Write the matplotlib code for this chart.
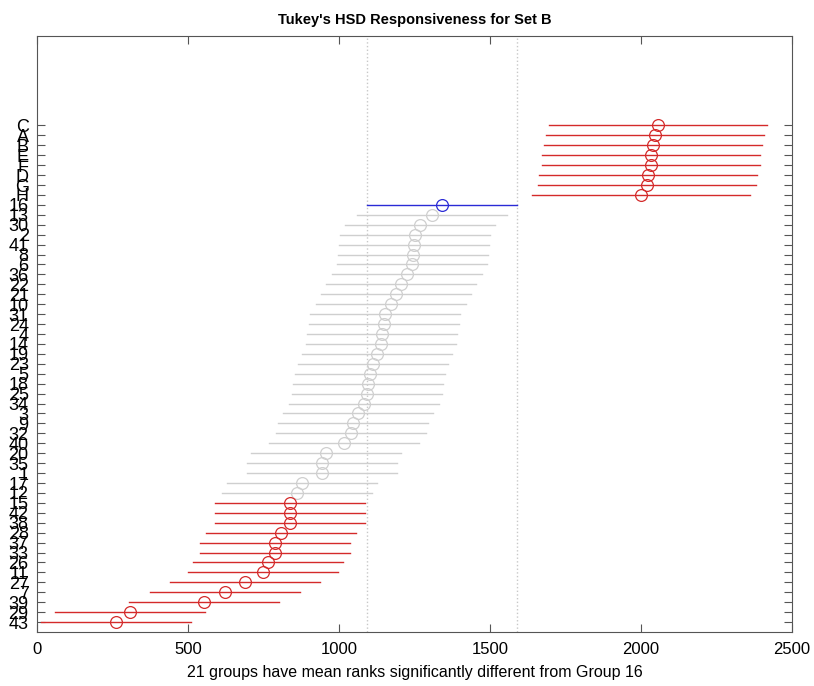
import numpy as np
import matplotlib
matplotlib.use("Agg")
import matplotlib.pyplot as plt

plt.rcParams['font.family'] = ['Liberation Sans', 'DejaVu Sans']

# Groups listed top to bottom, as in the chart
labels = ["C", "A", "B", "E", "F", "D", "G", "H",
          "16", "13", "30", "2", "41", "8", "6", "36", "22", "21",
          "10", "31", "24", "4", "14", "19", "23", "5", "18", "25",
          "34", "3", "9", "32", "40", "20", "35", "1", "17", "12",
          "15", "42", "38", "28", "37", "33", "26", "11", "27", "7",
          "39", "29", "43"]

# Mean ranks (estimated)
means = [2056, 2046, 2040, 2033, 2033, 2023, 2020, 2000,
         1341, 1308, 1268, 1252, 1248, 1245, 1242, 1225, 1205, 1189,
         1172, 1152, 1149, 1142, 1139, 1126, 1113, 1103, 1096, 1093,
         1083, 1063, 1046, 1040, 1017, 957, 944, 944, 877, 861,
         838, 838, 838, 808, 788, 788, 765, 748, 689, 623,
         553, 308, 262]

# Interval half widths: letter groups are wider than numbered groups
half_widths = [360] * 8 + [248] * 43

ref_group = "16"

n = len(labels)
ypos = np.arange(n, 0, -1)
means = np.array(means, dtype=float)
half_widths = np.array(half_widths, dtype=float)
lo = means - half_widths
hi = means + half_widths

ref = labels.index(ref_group)
ref_lo, ref_hi = lo[ref], hi[ref]

RED = "#d42a2a"
BLUE = "#2a2ad6"
GRAY = "#cfcfcf"

fig = plt.figure(figsize=(8.14, 6.86), dpi=100)
ax = fig.add_axes([0.0455, 0.0787, 0.9275, 0.8688])

# reference interval guides
ax.axvline(ref_lo, color="#c8c8c8", linestyle=":", linewidth=1.0, zorder=1)
ax.axvline(ref_hi, color="#c8c8c8", linestyle=":", linewidth=1.0, zorder=1)

n_sig = 0
for i in range(n):
    if i == ref:
        c = BLUE
    elif hi[i] < ref_lo or lo[i] > ref_hi:
        c = RED
        n_sig += 1
    else:
        c = GRAY
    ax.plot([lo[i], hi[i]], [ypos[i], ypos[i]], color=c, linewidth=1.0, zorder=2)
    ax.plot(means[i], ypos[i], marker="o", markersize=8.5, markerfacecolor="none",
            markeredgecolor=c, markeredgewidth=0.9, zorder=3)

ax.set_xlim(0, 2500)
ax.set_ylim(0, 60)
ax.set_xticks([0, 500, 1000, 1500, 2000, 2500])
ax.set_yticks(ypos)
ax.set_yticklabels(labels)

ax.tick_params(axis="both", direction="in", length=6, width=0.8, color="#555555",
               labelsize=12, top=True, right=True)
ax.tick_params(axis="y", pad=6, labelsize=13)
ax.tick_params(axis="x", pad=7)
for s in ax.spines.values():
    s.set_color("#555555")
    s.set_linewidth(0.8)

ax.set_title("Tukey's HSD Responsiveness for Set B", fontsize=10.5, fontweight="bold", pad=9)
ax.set_xlabel(f"{n_sig} groups have mean ranks significantly different from Group {ref_group}",
              fontsize=11.5, labelpad=6)

fig.savefig("out.png", dpi=100)
